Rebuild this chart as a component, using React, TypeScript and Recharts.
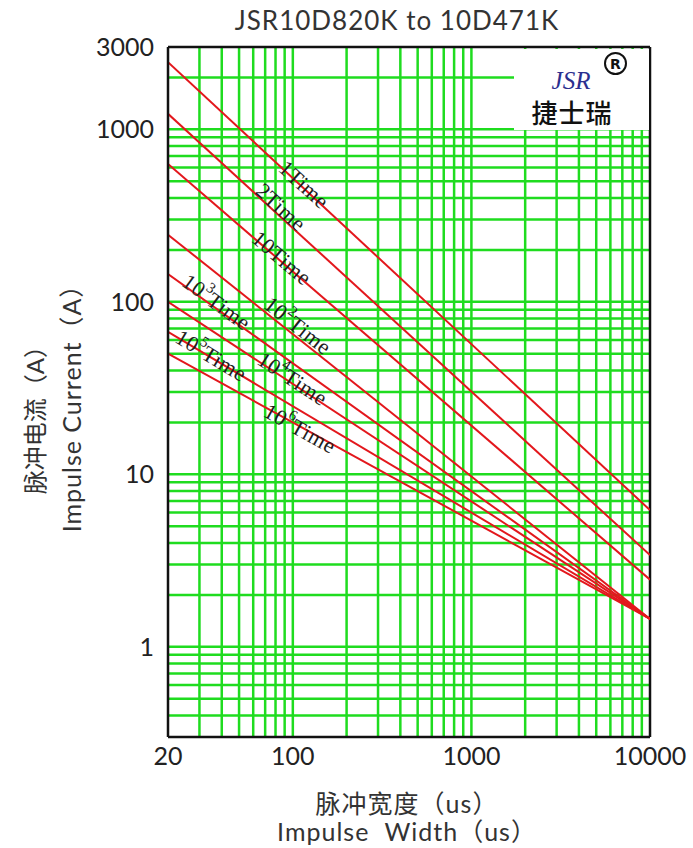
import { LineChart, Line, XAxis, YAxis, ReferenceLine, ReferenceDot } from "recharts";

// impulse width (us) at the two ends of every curve
const widthEnds = [20, 10000];

// impulse current (A) at 20us and at 10000us, one pair per curve
const curves = [
  { name: "1Time", ends: [2450, 6.2] },
  { name: "2Time", ends: [1230, 3.4] },
  { name: "10Time", ends: [630, 2.45] },
  { name: "10^2Time", ends: [245, 1.45] },
  { name: "10^3Time", ends: [145, 1.45] },
  { name: "10^4Time", ends: [100, 1.45] },
  { name: "10^5Time", ends: [67, 1.45] },
  { name: "10^6Time", ends: [50, 1.45] },
];

// curve labels: where they sit (us, A), angle, text parts
const curveLabels = [
  { pre: "1", sup: "", x: 116, y: 480, angle: 42 },
  { pre: "2", sup: "", x: 86, y: 355, angle: 42 },
  { pre: "10", sup: "", x: 87, y: 180, angle: 40 },
  { pre: "10", sup: "2", x: 107, y: 73, angle: 38 },
  { pre: "10", sup: "3", x: 37.5, y: 100, angle: 36 },
  { pre: "10", sup: "4", x: 100, y: 36, angle: 33 },
  { pre: "10", sup: "5", x: 35, y: 49, angle: 31 },
  { pre: "10", sup: "6", x: 110, y: 18.5, angle: 29 },
];

const xTicks = [20, 100, 1000, 10000];
const yTicks = [1, 10, 100, 1000, 3000];

const xGrid = [
  30, 40, 50, 60, 70, 80, 90, 100,
  200, 300, 400, 500, 600, 700, 800, 900, 1000,
  2000, 3000, 4000, 5000, 6000, 7000, 8000, 9000,
];
const yGrid = [
  0.4, 0.5, 0.6, 0.7, 0.8, 0.9, 1,
  2, 3, 4, 5, 6, 7, 8, 9, 10,
  20, 30, 40, 50, 60, 70, 80, 90, 100,
  200, 300, 400, 500, 600, 700, 800, 900, 1000, 2000,
];

const GREEN = "#1fdc1f";
const RED = "#e3171c";
const SANS = "Lato, 'Noto Sans CJK SC', sans-serif";

function CurveLabel(props: any) {
  const { cx, cy, item } = props;
  return (
    <text
      transform={`translate(${cx},${cy}) rotate(${item.angle})`}
      textAnchor="middle"
      dominantBaseline="central"
      fontFamily="'Liberation Serif', serif"
      fontSize={22}
      letterSpacing={0.5}
      fill="#1e1e1e"
    >
      {item.pre}
      {item.sup && (
        <tspan dy={-8} fontSize={15}>
          {item.sup}
        </tspan>
      )}
      <tspan dy={item.sup ? 8 : 0}>Time</tspan>
    </text>
  );
}

export default function App() {
  return (
    <div style={{ position: "absolute", left: 0, top: 0, width: 693, height: 848, background: "#fff" }}>
      <div
        style={{
          position: "absolute", left: 397, top: 20, transform: "translate(-50%,-50%)",
          fontFamily: SANS, fontSize: 26, color: "#333", whiteSpace: "nowrap", letterSpacing: 1,
        }}
      >
        JSR10D820K to 10D471K
      </div>

      <LineChart width={693} height={848} margin={{ top: 47, right: 43, left: 0, bottom: 0 }}>
        <XAxis
          dataKey="x"
          type="number"
          scale="log"
          domain={[20, 10000]}
          ticks={xTicks}
          allowDataOverflow
          height={111}
          tickLine={false}
          tickSize={4}
          tickMargin={6}
          axisLine={{ stroke: "#111", strokeWidth: 2.5 }}
          tick={{ fontFamily: SANS, fontSize: 25, fill: "#222" }}
        />
        <YAxis
          type="number"
          scale="log"
          domain={[0.3, 3000]}
          ticks={yTicks}
          allowDataOverflow
          width={168}
          tickLine={false}
          tickSize={6}
          tickMargin={8}
          axisLine={{ stroke: "#111", strokeWidth: 2.5 }}
          tick={{ fontFamily: SANS, fontSize: 25, fill: "#222" }}
        />

        {xGrid.map((v) => (
          <ReferenceLine key={`vx${v}`} x={v} stroke={GREEN} strokeWidth={2.5} />
        ))}
        {yGrid.map((v) => (
          <ReferenceLine key={`hy${v}`} y={v} stroke={GREEN} strokeWidth={2.5} />
        ))}

        <ReferenceLine x={10000} stroke="#111" strokeWidth={2.5} ifOverflow="visible" />
        <ReferenceLine y={3000} stroke="#111" strokeWidth={2.5} ifOverflow="visible" />

        {curves.map((c) => (
          <Line
            key={c.name}
            data={widthEnds.map((w, i) => ({ x: w, y: c.ends[i] }))}
            dataKey="y"
            type="linear"
            stroke={RED}
            strokeWidth={2}
            dot={false}
            activeDot={false}
            isAnimationActive={false}
          />
        ))}

        {curveLabels.map((l) => (
          <ReferenceDot
            key={`lab${l.pre}${l.sup}`}
            x={l.x}
            y={l.y}
            r={0}
            shape={(p: any) => <CurveLabel cx={p.cx} cy={p.cy} item={l} />}
          />
        ))}
      </LineChart>

      {/* logo box */}
      <div style={{ position: "absolute", left: 514, top: 49, width: 135, height: 81, background: "#fff" }} />
      <div style={{ position: "absolute", left: 604, top: 52, fontFamily: "'DejaVu Sans', sans-serif", fontWeight: "bold", color: "#111", border: "2.5px solid #111", borderRadius: "50%", width: 19, height: 19, lineHeight: "19px", textAlign: "center" }}>
        <span style={{ fontSize: 14 }}>R</span>
      </div>
      <div style={{ position: "absolute", left: 571, top: 81, transform: "translate(-50%,-50%)", fontFamily: "'Liberation Serif', serif", fontStyle: "italic", fontSize: 25, color: "#2b2f8f", whiteSpace: "nowrap" }}>
        JSR
      </div>
      <div style={{ position: "absolute", left: 572, top: 111, transform: "translate(-50%,-50%)", fontFamily: "'Noto Sans CJK SC', sans-serif", fontSize: 26, fontWeight: 500, color: "#111", whiteSpace: "nowrap", letterSpacing: 1 }}>
        捷士瑞
      </div>

      {/* y axis title */}
      <div style={{ position: "absolute", left: 33, top: 414, transform: "translate(-50%,-50%) rotate(-90deg)", fontFamily: SANS, fontSize: 24, color: "#333", whiteSpace: "nowrap" }}>
        脉冲电流（A）
      </div>
      <div style={{ position: "absolute", left: 70, top: 402, transform: "translate(-50%,-50%) rotate(-90deg)", fontFamily: SANS, fontSize: 25, color: "#333", whiteSpace: "nowrap", letterSpacing: 1 }}>
        Impulse Current（A）
      </div>

      {/* x axis title */}
      <div style={{ position: "absolute", left: 407, top: 802, transform: "translate(-50%,-50%)", fontFamily: SANS, fontSize: 25, color: "#333", whiteSpace: "nowrap", letterSpacing: 1 }}>
        脉冲宽度（us）
      </div>
      <div style={{ position: "absolute", left: 407, top: 830, transform: "translate(-50%,-50%)", fontFamily: SANS, fontSize: 25, color: "#333", whiteSpace: "nowrap", letterSpacing: 1, wordSpacing: 8 }}>
        Impulse Width（us）
      </div>
    </div>
  );
}
